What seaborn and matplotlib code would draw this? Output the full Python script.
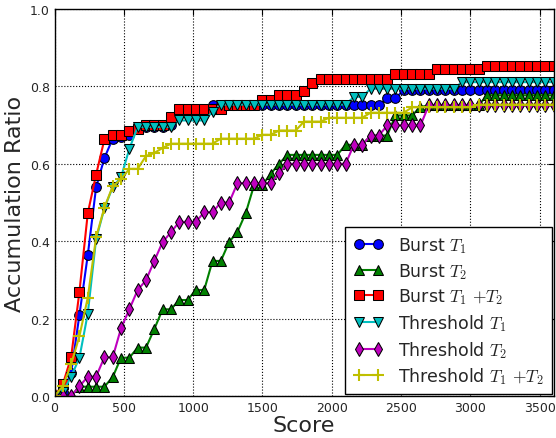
import matplotlib
matplotlib.use("Agg")
import matplotlib.pyplot as plt
import seaborn as sns
import numpy as np

# Score sampled every 60 points from 0 to 3600
scores = list(range(0, 3601, 60))

burst_t1 = ([0.0, 0.01, 0.06, 0.21, 0.364, 0.539, 0.615, 0.665, 0.67, 0.675,
             0.695, 0.695, 0.695, 0.695, 0.70, 0.729, 0.729, 0.729, 0.729]
            + [0.752] * 21 + [0.77, 0.77] + [0.79] * 19)

burst_t2 = ([0.0, 0.0, 0.0, 0.024, 0.024, 0.024, 0.024, 0.049, 0.099, 0.099,
             0.125, 0.125, 0.173, 0.224, 0.224, 0.248, 0.248, 0.274, 0.274,
             0.349, 0.349, 0.398, 0.424, 0.473, 0.545, 0.545, 0.574, 0.60]
            + [0.623] * 7 + [0.649] * 3 + [0.673] * 3 + [0.725] * 3
            + [0.747] + [0.751] * 7 + [0.777] * 9)

burst_t12 = ([0.0, 0.03, 0.10, 0.27, 0.472, 0.572, 0.663, 0.675, 0.675, 0.685,
              0.69, 0.70, 0.70, 0.70, 0.72]
             + [0.742] * 6 + [0.752] * 4 + [0.766] * 2 + [0.777] * 3
             + [0.788, 0.81] + [0.82] * 9 + [0.833] * 5 + [0.845] * 6
             + [0.854] * 9)

thr_t1 = ([0.0, 0.01, 0.05, 0.099, 0.213, 0.405, 0.485, 0.54, 0.565, 0.639]
          + [0.695] * 5 + [0.712] * 4 + [0.734] + [0.753] * 16
          + [0.773] * 2 + [0.794] * 11 + [0.811] * 12)

thr_t2 = ([0.0, 0.0, 0.0, 0.025, 0.05, 0.05, 0.10, 0.10, 0.175, 0.224,
           0.274, 0.299, 0.349, 0.398, 0.423]
          + [0.45] * 3 + [0.475] * 2 + [0.50] * 2 + [0.55] * 5 + [0.576]
          + [0.60] * 8 + [0.649] * 2 + [0.673] * 2 + [0.699] * 5
          + [0.751] * 16)

thr_t12 = ([0.0, 0.025, 0.082, 0.155, 0.254, 0.41, 0.487, 0.542, 0.56, 0.587,
            0.587, 0.62, 0.628, 0.641]
           + [0.652] * 6 + [0.665] * 5 + [0.675] * 2 + [0.686] * 3
           + [0.709] * 3 + [0.719] * 5 + [0.732] * 5 + [0.746] * 8
           + [0.753] * 10)

labels = ["Burst $T_1$", "Burst $T_2$", "Burst $T_1$ $+T_2$",
          "Threshold $T_1$", "Threshold $T_2$", "Threshold $T_1$ $+T_2$"]
series = [burst_t1, burst_t2, burst_t12, thr_t1, thr_t2, thr_t12]
colors = ["#0000ff", "#008000", "#ff0000", "#00bfbf", "#bf00bf", "#bfbf00"]
markers = ["o", "^", "s", "v", "d", "+"]

x_ticks = [0, 500, 1000, 1500, 2000, 2500, 3000, 3500]
y_ticks = [0.0, 0.2, 0.4, 0.6, 0.8, 1.0]

sns.set_style("white")
plt.rcParams["font.family"] = ["DejaVu Sans"]
plt.rcParams["mathtext.fontset"] = "cm"

fig = plt.figure(figsize=(5.56, 4.39), dpi=100)
ax = fig.add_axes([54.5 / 556, 42 / 439, 499 / 556, 387 / 439])

for vals, lab, col, mk in zip(series, labels, colors, markers):
    if mk == "+":
        sns.lineplot(x=scores, y=vals, ax=ax, color=col, marker=mk,
                     markersize=9, markeredgecolor=col, markeredgewidth=1.5,
                     linewidth=1.5, label=lab)
    else:
        sns.lineplot(x=scores, y=vals, ax=ax, color=col, marker=mk,
                     markersize=7, markeredgecolor="k", markeredgewidth=0.75,
                     linewidth=1.5, label=lab)

ax.set_xlim(0, 3600)
ax.set_ylim(0, 1.0)
ax.set_xticks(x_ticks)
ax.set_yticks(y_ticks)
ax.set_yticklabels([f"{v:.1f}" for v in y_ticks])
ax.tick_params(direction="in", top=True, right=True, length=4,
               labelsize=9, color="k", width=0.8)
ax.grid(True, linestyle=":", color="k", linewidth=0.8)
for sp in ax.spines.values():
    sp.set_color("k")
    sp.set_linewidth(1.0)

ax.set_xlabel("Score", fontsize=16, labelpad=1)
ax.set_ylabel("Accumulation Ratio", fontsize=16, labelpad=3)

leg = ax.legend(loc="lower right", numpoints=2, fontsize=12.5,
                handlelength=1.7, handletextpad=0.9, labelspacing=0.33,
                borderaxespad=0.1, borderpad=0.45, fancybox=False,
                framealpha=1.0, edgecolor="k")
leg.get_frame().set_linewidth(1.0)

fig.savefig("out.png", dpi=100)
